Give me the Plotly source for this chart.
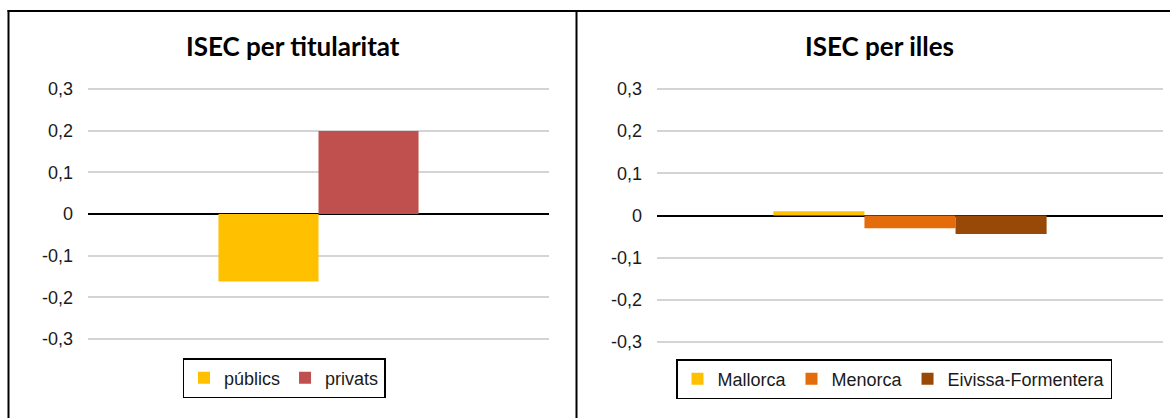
import plotly.graph_objects as go

# ---- data ----
left_category = ["titularitat"]
left_series = ["públics", "privats"]
left_values = [-0.162, 0.199]
left_colors = ["#FFC000", "#C0504D"]

right_category = ["illes"]
right_series = ["Mallorca", "Menorca", "Eivissa-Formentera"]
right_values = [0.010, -0.030, -0.044]
right_colors = ["#FFC000", "#E46C0A", "#984807"]

tick_vals = [-0.3, -0.2, -0.1, 0, 0.1, 0.2, 0.3]
tick_text = ["-0,3", "-0,2", "-0,1", "0", "0,1", "0,2", "0,3"]

titles = ["ISEC per titularitat", "ISEC per illes"]

W, H = 1170, 418

def px_x(v):
    return v / W

def px_y(v):
    return 1 - v / H

fig = go.Figure()

# left chart bars
lw = 0.217
for i, (name, val, col) in enumerate(zip(left_series, left_values, left_colors)):
    fig.add_trace(go.Bar(
        x=left_category, y=[val], name=name, marker=dict(color=col, line=dict(width=0)),
        width=lw, offset=-lw + i * lw, xaxis="x", yaxis="y", legend="legend",
        hoverinfo="name+y",
    ))

# right chart bars
rw = 0.18
for i, (name, val, col) in enumerate(zip(right_series, right_values, right_colors)):
    fig.add_trace(go.Bar(
        x=right_category, y=[val], name=name, marker=dict(color=col, line=dict(width=0)),
        width=rw, offset=-1.5 * rw + i * rw, xaxis="x2", yaxis="y2", legend="legend2",
        hoverinfo="name+y",
    ))

font_ticks = dict(family="Liberation Sans, Arial, sans-serif", size=18, color="#1a1a1a")

yaxis_common = dict(
    range=[-0.31, 0.31], tickvals=tick_vals, ticktext=tick_text,
    showgrid=True, gridcolor="#d4d4d4", gridwidth=1.5,
    zeroline=True, zerolinecolor="#000000", zerolinewidth=1.5,
    showline=False, ticks="", tickfont=font_ticks, ticklabelstandoff=14,
    fixedrange=True,
)
xaxis_common = dict(
    range=[-0.5, 0.5], showticklabels=False, showgrid=False, zeroline=False,
    showline=False, ticks="", fixedrange=True,
)

fig.update_layout(
    width=W, height=H,
    margin=dict(l=0, r=0, t=0, b=0, autoexpand=False),
    paper_bgcolor="white", plot_bgcolor="white",
    barmode="overlay",
    separators=",.",
    showlegend=True,
    xaxis=dict(domain=[px_x(88), px_x(549)], anchor="y", **xaxis_common),
    yaxis=dict(domain=[px_y(343.2), px_y(84.8)], anchor="x", **yaxis_common),
    xaxis2=dict(domain=[px_x(657), px_x(1163)], anchor="y2", **xaxis_common),
    yaxis2=dict(domain=[px_y(346.2), px_y(84.8)], anchor="x2", **yaxis_common),
    legend=dict(
        orientation="h", x=px_x(284), y=px_y(378), xanchor="center", yanchor="middle",
        bordercolor="#000000", borderwidth=1.5, bgcolor="white",
        font=font_ticks, itemwidth=30, traceorder="normal",
    ),
    legend2=dict(
        orientation="h", x=px_x(894), y=px_y(379), xanchor="center", yanchor="middle",
        bordercolor="#000000", borderwidth=1.5, bgcolor="white",
        font=font_ticks, itemwidth=30, traceorder="normal",
    ),
    annotations=[
        dict(text="<b>" + titles[0] + "</b>", x=px_x(293), y=px_y(46), xref="paper", yref="paper",
             xanchor="center", yanchor="middle", showarrow=False,
             font=dict(family="Lato, sans-serif", size=26, color="#000000")),
        dict(text="<b>" + titles[1] + "</b>", x=px_x(879), y=px_y(46), xref="paper", yref="paper",
             xanchor="center", yanchor="middle", showarrow=False,
             font=dict(family="Lato, sans-serif", size=26, color="#000000")),
    ],
    shapes=[
        dict(type="line", xref="paper", yref="paper", x0=px_x(7.5), x1=1, y0=px_y(11), y1=px_y(11),
             line=dict(color="#000000", width=2)),
        dict(type="line", xref="paper", yref="paper", x0=px_x(8.5), x1=px_x(8.5), y0=px_y(10), y1=0,
             line=dict(color="#000000", width=2)),
        dict(type="line", xref="paper", yref="paper", x0=px_x(576.5), x1=px_x(576.5), y0=px_y(10), y1=0,
             line=dict(color="#000000", width=2)),
    ],
)

fig.write_html(
    "out.html",
    config={"displayModeBar": False},
    post_script="document.body.style.margin='0';document.body.style.padding='0';"
                "document.body.style.overflow='hidden';",
)
